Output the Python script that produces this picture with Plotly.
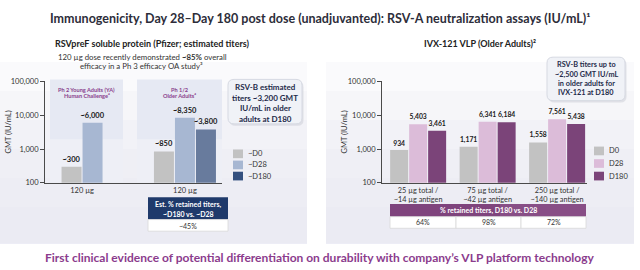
import plotly.graph_objects as go

# ---------------- data ----------------
left_groups = ["120 µg", "120 µg"]
left_series = ["~D0", "~D28", "~D180"]
left_d0 = [300, 850]
left_d28 = [6000, 8350]
left_d180 = [None, 3800]
left_group_titles = [["Ph 2 Young Adults (YA)", "Human Challenge⁴"], ["Ph 1/2", "Older Adults⁴"]]
left_retained = "~45%"

right_groups = ["25 µg total /<br>~14 µg antigen", "75 µg total /<br>~42 µg antigen",
                "250 µg total /<br>~140 µg antigen"]
right_series = ["D0", "D28", "D180"]
right_d0 = [934, 1171, 1558]
right_d28 = [5403, 6341, 7561]
right_d180 = [3461, 6184, 5438]
right_retained = ["64%", "98%", "72%"]

y_ticks = [100, 1000, 10000, 100000]

left_colors = ["#c2c2c2", "#a7b7d2", "#687b9d"]
left_legend_colors = ["#c2c2c2", "#a7b7d2", "#34507f"]
right_colors = ["#c2c2c2", "#dcbcd9", "#7b4479"]

W, H = 640, 270
FONT = "Lato"


def P(x):
    return x / W


def Q(y):
    return 1 - y / H


def note(x, y, text, size, color="#333", bold=False, xanchor="center", angle=0):
    f = dict(family=FONT, size=size, color=color)
    if bold:
        f["weight"] = "bold"
    return dict(x=P(x), y=Q(y), xref="paper", yref="paper", text=text, showarrow=False,
                xanchor=xanchor, yanchor="middle", textangle=angle, font=f)


fig = go.Figure()

# ---------- left chart bars (explicit per-group offsets) ----------
L_DOM = (45, 222)
L_RANGE = (-0.36, 1.36)
lpx = (L_DOM[1] - L_DOM[0]) / (L_RANGE[1] - L_RANGE[0])
lw = 20 / lpx
lpitch = 21 / lpx
left_vals = [left_d0, left_d28, left_d180]
n_present = [sum(1 for s in left_vals if s[g] is not None) for g in range(len(left_groups))]
for si, (name, vals) in enumerate(zip(left_series, left_vals)):
    offs = []
    for g in range(len(left_groups)):
        n = n_present[g]
        center = (si - (n - 1) / 2) * lpitch
        offs.append(center - lw / 2)
    fig.add_trace(go.Bar(
        x=list(range(len(left_groups))), y=vals, width=lw, offset=offs,
        marker=dict(color=left_colors[si], line=dict(width=0)),
        text=["" if v is None else "~" + format(v, ",") for v in vals],
        textposition="outside", constraintext="none", cliponaxis=False,
        textfont=dict(family=FONT, size=7.5, color="#1a1a1a", weight="bold"),
        xaxis="x", yaxis="y", name=name, showlegend=False, hoverinfo="skip"))

# ---------- right chart bars ----------
R_DOM = (382, 587)
R_RANGE = (-0.52, 2.43)
rpx = (R_DOM[1] - R_DOM[0]) / (R_RANGE[1] - R_RANGE[0])
rw = 18 / rpx
rpitch = 19 / rpx
right_vals = [right_d0, right_d28, right_d180]
for si, (name, vals) in enumerate(zip(right_series, right_vals)):
    fig.add_trace(go.Bar(
        x=list(range(len(right_groups))), y=vals, width=rw,
        offset=(si - 1) * rpitch - rw / 2,
        marker=dict(color=right_colors[si], line=dict(width=0)),
        text=[format(v, ",") for v in vals],
        textposition="outside", constraintext="none", cliponaxis=False,
        textfont=dict(family=FONT, size=6.8, color="#1a1a1a", weight="bold"),
        xaxis="x2", yaxis="y2", name=name, showlegend=False, hoverinfo="skip"))

ax_common = dict(showgrid=False, zeroline=False, showline=True, linecolor="#4a4a4a",
                 linewidth=1, tickfont=dict(family=FONT, size=7.5, color="#333"))
y_common = dict(ax_common, type="log", range=[2, 5], tickvals=y_ticks,
                ticktext=[format(t, ",") for t in y_ticks], ticks="outside",
                ticklen=4, tickcolor="#4a4a4a", fixedrange=True)

fig.update_layout(
    width=W, height=H, margin=dict(l=0, r=0, t=0, b=0),
    paper_bgcolor="white", plot_bgcolor="rgba(0,0,0,0)",
    font=dict(family=FONT, color="#222"),
    barmode="overlay",
    xaxis=dict(ax_common, domain=[P(L_DOM[0]), P(L_DOM[1])], range=list(L_RANGE),
               tickvals=list(range(len(left_groups))), ticktext=left_groups, ticks="",
               anchor="y"),
    yaxis=dict(y_common, domain=[Q(185), Q(80)], anchor="x"),
    xaxis2=dict(ax_common, domain=[P(R_DOM[0]), P(R_DOM[1])], range=list(R_RANGE),
                tickvals=list(range(len(right_groups))), ticktext=right_groups, ticks="",
                anchor="y2", tickfont=dict(family=FONT, size=7.3, color="#333")),
    yaxis2=dict(y_common, domain=[Q(185), Q(80)], anchor="x2"),
)

shapes = []
annots = []

# ---------- panel backgrounds (soft vertical gradient) ----------
for (x0, x1) in [(0, 307), (326, 634)]:
    for yb in [60, 90, 120, 150, 180, 210]:
        shapes.append(dict(type="rect", xref="paper", yref="paper", x0=P(x0), x1=P(x1),
                           y0=Q(248), y1=Q(yb), fillcolor="#e4e8f1", opacity=0.2,
                           line=dict(width=0), layer="below"))

# ---------- left shaded group boxes ----------
for (x0, x1), lines, cx in zip([(50, 123), (137, 222)], left_group_titles, [86.5, 179.5]):
    shapes.append(dict(type="rect", xref="paper", yref="paper", x0=P(x0), x1=P(x1),
                       y0=Q(185), y1=Q(78), fillcolor="#e6e9f3", line=dict(width=0),
                       layer="below"))
    shapes.append(dict(type="rect", xref="paper", yref="paper", x0=P(x0), x1=P(x1),
                       y0=Q(185), y1=Q(140), fillcolor="#f3f4f9", opacity=0.6,
                       line=dict(width=0), layer="below"))
    for yy, t in zip([88, 94.5], lines):
        annots.append(note(cx, yy, t, 5.6, color="#8a3f8c", bold=True))


def rounded(x0, y0, x1, y1, r):
    rx, ry = r / W, r / H
    X0, X1, Y0, Y1 = P(x0), P(x1), Q(y1), Q(y0)
    return (f"M {X0+rx},{Y1} L {X1-rx},{Y1} Q {X1},{Y1} {X1},{Y1-ry} "
            f"L {X1},{Y0+ry} Q {X1},{Y0} {X1-rx},{Y0} L {X0+rx},{Y0} "
            f"Q {X0},{Y0} {X0},{Y0+ry} L {X0},{Y1-ry} Q {X0},{Y1} {X0+rx},{Y1} Z")


# ---------- RSV-B callout boxes ----------
boxes = [
    ((228, 78, 302, 124), 265, [86, 97, 108, 119],
     ["RSV-B estimated", "titers ~3,200 GMT", "IU/mL in older", "adults at D180"], 8),
    ((547, 55, 625, 100), 586, [63, 72.5, 82, 91.5],
     ["RSV-B titers up to", "~2,500 GMT IU/mL", "in older adults for", "IVX-121 at D180"], 7.3),
]
for (x0, y0, x1, y1), cx, ys, lines, fs in boxes:
    shapes.append(dict(type="path", xref="paper", yref="paper",
                       path=rounded(x0 + 1.5, y0 + 2, x1 + 1.5, y1 + 2, 6),
                       fillcolor="#c9ccd6", opacity=0.5, line=dict(width=0)))
    shapes.append(dict(type="path", xref="paper", yref="paper",
                       path=rounded(x0, y0, x1, y1, 6),
                       fillcolor="#f0f2f7", line=dict(color="#d6d9e2", width=1)))
    for yy, t in zip(ys, lines):
        annots.append(note(cx, yy, t, fs, color="#1f2b4a", bold=True))

# ---------- legends ----------
for names, cols, sx, ys in [(left_series, left_legend_colors, 233, [155, 166.5, 178]),
                            (right_series, right_colors, 594, [152, 165, 178])]:
    for nm, c, yy in zip(names, cols, ys):
        shapes.append(dict(type="rect", xref="paper", yref="paper", x0=P(sx), x1=P(sx + 10),
                           y0=Q(yy + 4.5), y1=Q(yy - 4.5), fillcolor=c, line=dict(width=0)))
        annots.append(note(sx + 13, yy, nm, 7.5, xanchor="left"))

# ---------- left retained table ----------
shapes.append(dict(type="rect", xref="paper", yref="paper", x0=P(148), x1=P(228),
                   y0=Q(223), y1=Q(200), fillcolor="#1f3a6b", line=dict(width=0)))
shapes.append(dict(type="rect", xref="paper", yref="paper", x0=P(148), x1=P(228),
                   y0=Q(235), y1=Q(223), fillcolor="white", line=dict(color="#d8d8d8", width=0.8)))
annots.append(note(188, 207.5, "Est. % retained titers,", 7, color="white", bold=True))
annots.append(note(188, 217, "~D180 vs. ~D28", 7, color="white", bold=True))
annots.append(note(188, 229.5, left_retained, 7))

# ---------- right retained table ----------
shapes.append(dict(type="rect", xref="paper", yref="paper", x0=P(390), x1=P(586),
                   y0=Q(220), y1=Q(207), fillcolor="#7f447d", line=dict(width=0)))
shapes.append(dict(type="rect", xref="paper", yref="paper", x0=P(500), x1=P(586),
                   y0=Q(220), y1=Q(207), fillcolor="#9a6197", opacity=0.35, line=dict(width=0)))
annots.append(note(488, 213.5, "% retained titers, D180 vs. D28", 7, color="white", bold=True))
cell_edges = [390, 456, 521, 586]
for i, val in enumerate(right_retained):
    a, b = cell_edges[i], cell_edges[i + 1]
    shapes.append(dict(type="rect", xref="paper", yref="paper", x0=P(a), x1=P(b),
                       y0=Q(232), y1=Q(220), fillcolor="white",
                       line=dict(color="#d8d8d8", width=0.8)))
    annots.append(note((a + b) / 2, 226, val, 7))

# ---------- axis titles ----------
for xx in [9, 345]:
    annots.append(note(xx, 133, "GMT (IU/mL)", 7.5, angle=-90))

# ---------- titles ----------
annots.append(note(320, 15, "Immunogenicity, Day 28–Day 180 post dose (unadjuvanted): RSV-A neutralization assays (IU/mL)¹",
                   12.5, color="#2d2d3a", bold=True))
annots.append(note(152, 40.5, "RSVpreF soluble protein (Pfizer; estimated titers)", 9, color="#222", bold=True))
annots.append(note(142, 55, "120 µg dose recently demonstrated <b>~85%</b> overall", 7.8))
annots.append(note(141, 64.5, "efficacy in a Ph 3 efficacy OA study³", 7.8))
annots.append(note(480, 40.5, "IVX-121 VLP (Older Adults)²", 9, color="#222", bold=True))
annots.append(note(320, 262, "First clinical evidence of potential differentiation on durability with company’s VLP platform technology",
                   12, color="#8b3c8d", bold=True))

fig.update_layout(shapes=shapes, annotations=annots)
fig.write_html("out.html")
